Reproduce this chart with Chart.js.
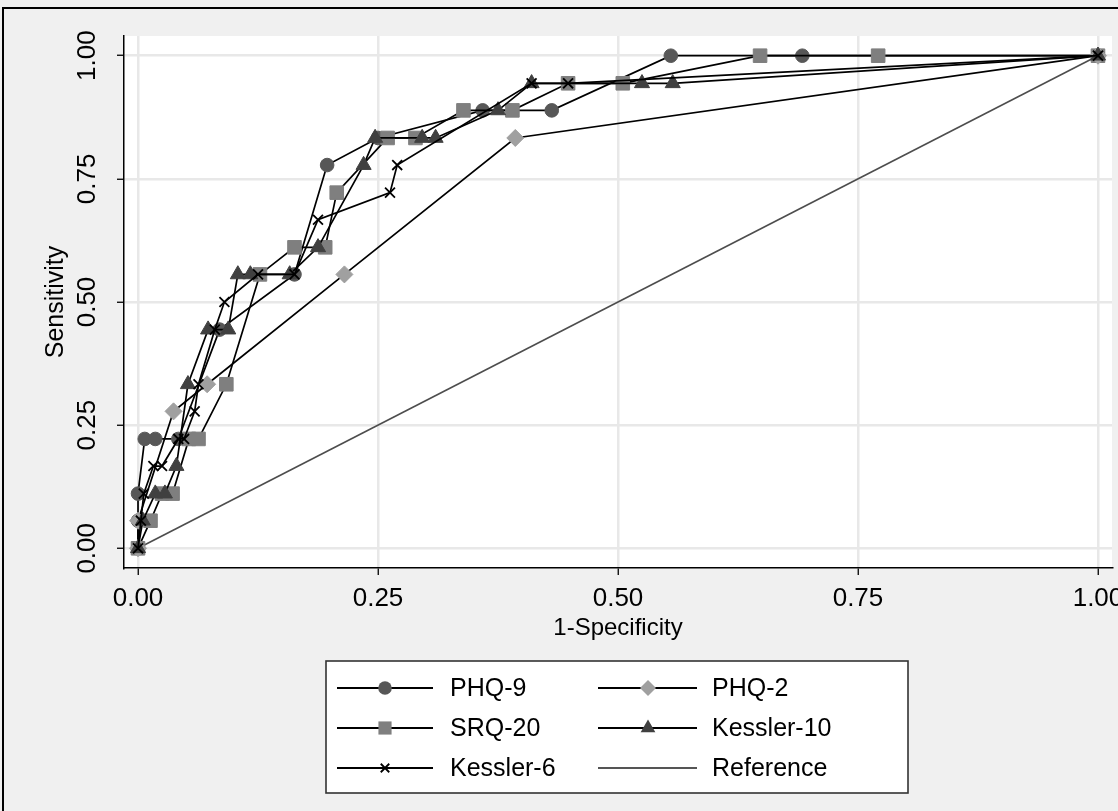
<!DOCTYPE html>
<html><head><meta charset="utf-8">
<script src="https://cdn.jsdelivr.net/npm/chart.js@4.4.1/dist/chart.umd.min.js"></script>
<style>html,body{margin:0;padding:0;overflow:hidden;background:#f0f0f0;width:1118px;height:811px}canvas{display:block}</style>
</head><body><canvas id="c" width="1160" height="811" style="width:1160px;height:811px"></canvas>
<script>
// ---- data ----
const xTickValues = [0, 0.25, 0.5, 0.75, 1];
const xTickLabels = ['0.00', '0.25', '0.50', '0.75', '1.00'];
const yTickValues = [0, 0.25, 0.5, 0.75, 1];
const yTickLabels = ['0.00', '0.25', '0.50', '0.75', '1.00'];

const phq9X = [0, 0, 0, 0.007, 0.018, 0.042, 0.085, 0.163, 0.197, 0.25, 0.359, 0.431, 0.555, 0.692, 1];
const phq9Y = [0, 0.056, 0.111, 0.222, 0.222, 0.222, 0.444, 0.556, 0.778, 0.833, 0.889, 0.889, 1, 1, 1];

const phq2X = [0, 0, 0.037, 0.072, 0.215, 0.393, 1];
const phq2Y = [0, 0.056, 0.278, 0.333, 0.556, 0.833, 1];

const srqX = [0, 0.013, 0.025, 0.036, 0.053, 0.063, 0.092, 0.127, 0.163, 0.195, 0.207, 0.26, 0.289, 0.339, 0.39, 0.448, 0.505, 0.648, 0.771, 1];
const srqY = [0, 0.056, 0.111, 0.111, 0.222, 0.222, 0.333, 0.556, 0.611, 0.611, 0.722, 0.833, 0.833, 0.889, 0.889, 0.944, 0.944, 1, 1, 1];

const k10X = [0, 0.005, 0.018, 0.028, 0.04, 0.052, 0.073, 0.094, 0.104, 0.117, 0.158, 0.1875, 0.235, 0.247, 0.296, 0.31, 0.375, 0.41, 0.525, 0.557, 1];
const k10Y = [0, 0.056, 0.111, 0.111, 0.167, 0.333, 0.444, 0.444, 0.556, 0.556, 0.556, 0.611, 0.778, 0.833, 0.833, 0.833, 0.889, 0.944, 0.944, 0.944, 1];

const k6X = [0, 0.003, 0.006, 0.016, 0.025, 0.042, 0.048, 0.059, 0.063, 0.08, 0.09, 0.125, 0.163, 0.1875, 0.2625, 0.27, 0.41, 0.448, 1];
const k6Y = [0, 0.056, 0.111, 0.167, 0.167, 0.222, 0.222, 0.278, 0.333, 0.444, 0.5, 0.556, 0.556, 0.667, 0.722, 0.778, 0.944, 0.944, 1];

const refX = [0, 1];
const refY = [0, 1];

// ---- styling ----
const FONT = "'Liberation Sans', Arial, Helvetica, sans-serif";
const pts = (xs, ys) => xs.map((x, i) => ({x: x, y: ys[i]}));
function series(label, xs, ys, style, radius, color, extra) {
  return Object.assign({
    label: label, data: pts(xs, ys), showLine: true, borderColor: '#000', borderWidth: 1.7,
    tension: 0, fill: false, pointStyle: style, pointRadius: radius, pointHoverRadius: radius,
    pointBackgroundColor: color, pointBorderColor: color, pointBorderWidth: 1
  }, extra || {});
}

const legendItems = [
  {label: 'PHQ-9', style: 'circle', r: 6.8, color: '#575757', col: 0, row: 0},
  {label: 'PHQ-2', style: 'rectRot', r: 8, color: '#a0a0a0', col: 1, row: 0},
  {label: 'SRQ-20', style: 'rect', r: 9.3, color: '#7f7f7f', col: 0, row: 1},
  {label: 'Kessler-10', style: 'triangle', r: 8.5, color: '#404040', col: 1, row: 1},
  {label: 'Kessler-6', style: 'crossRot', r: 6, color: '#000', col: 0, row: 2},
  {label: 'Reference', style: null, r: 0, color: '#555', col: 1, row: 2}
];

function marker(ctx, style, x, y, r, color) {
  ctx.save();
  ctx.fillStyle = color; ctx.strokeStyle = color;
  ctx.beginPath();
  if (style === 'circle') { ctx.arc(x, y, r, 0, Math.PI * 2); ctx.fill(); }
  else if (style === 'rect') { const s = r * Math.SQRT1_2; ctx.fillRect(x - s, y - s, 2 * s, 2 * s); }
  else if (style === 'rectRot') { ctx.moveTo(x - r, y); ctx.lineTo(x, y - r); ctx.lineTo(x + r, y); ctx.lineTo(x, y + r); ctx.closePath(); ctx.fill(); }
  else if (style === 'triangle') {
    ctx.moveTo(x, y - r);
    ctx.lineTo(x + r * Math.sin(2 * Math.PI / 3), y - r * Math.cos(2 * Math.PI / 3));
    ctx.lineTo(x + r * Math.sin(4 * Math.PI / 3), y - r * Math.cos(4 * Math.PI / 3));
    ctx.closePath(); ctx.fill();
  } else if (style === 'crossRot') {
    const s = r * Math.SQRT1_2; ctx.lineWidth = 1.8;
    ctx.moveTo(x - s, y - s); ctx.lineTo(x + s, y + s); ctx.moveTo(x + s, y - s); ctx.lineTo(x - s, y + s); ctx.stroke();
  }
  ctx.restore();
}

const bgPlugin = {
  id: 'bg',
  beforeDraw(chart) {
    const {ctx, chartArea: a} = chart;
    ctx.save();
    ctx.fillStyle = '#f0f0f0'; ctx.fillRect(0, 0, chart.width, chart.height);
    ctx.fillStyle = '#ffffff'; ctx.fillRect(a.left, a.top, a.right - a.left, a.bottom - a.top);
    ctx.strokeStyle = '#000'; ctx.lineWidth = 2;
    ctx.beginPath(); ctx.moveTo(3, chart.height); ctx.lineTo(3, 8); ctx.lineTo(chart.width, 8); ctx.stroke();
    ctx.restore();
  }
};

const legendPlugin = {
  id: 'stataLegend',
  afterDraw(chart) {
    const ctx = chart.ctx;
    const box = {x: 326, y: 661, w: 582, h: 132};
    const rows = [688, 728, 768];
    const cols = [{l0: 337, l1: 433, m: 385, t: 450}, {l0: 598, l1: 697, m: 648, t: 712}];
    ctx.save();
    ctx.fillStyle = '#fff'; ctx.fillRect(box.x, box.y, box.w, box.h);
    ctx.strokeStyle = '#333'; ctx.lineWidth = 1.6; ctx.strokeRect(box.x, box.y, box.w, box.h);
    legendItems.forEach(it => {
      const c = cols[it.col], y = rows[it.row];
      ctx.beginPath();
      ctx.strokeStyle = it.style ? '#000' : it.color;
      ctx.lineWidth = 2;
      ctx.moveTo(c.l0, y); ctx.lineTo(c.l1, y); ctx.stroke();
      if (it.style) marker(ctx, it.style, c.m, y, it.r, it.color);
      ctx.fillStyle = '#000'; ctx.font = '25px ' + FONT; ctx.textBaseline = 'middle'; ctx.textAlign = 'left';
      ctx.fillText(it.label, c.t, y + 1);
    });
    ctx.restore();
  }
};

const gridOpts = {color: '#e8e8e8', lineWidth: 2.5, drawTicks: true, tickLength: 7, tickColor: '#000', tickWidth: 1.3};

new Chart(document.getElementById('c'), {
  type: 'scatter',
  data: {
    datasets: [
      series('Kessler-6', k6X, k6Y, 'crossRot', 7, '#000', {pointBorderWidth: 1.8}),
      series('Kessler-10', k10X, k10Y, 'triangle', 8.7, '#404040'),
      series('PHQ-2', phq2X, phq2Y, 'rectRot', 8.5, '#a0a0a0'),
      series('SRQ-20', srqX, srqY, 'rect', 9.6, '#7f7f7f'),
      series('PHQ-9', phq9X, phq9Y, 'circle', 6.8, '#575757'),
      {label: 'Reference', data: pts(refX, refY), showLine: true, borderColor: '#4d4d4d', borderWidth: 1.6, pointRadius: 0, pointHoverRadius: 0, fill: false}
    ]
  },
  options: {
    responsive: false, animation: false, events: [],
    layout: {padding: {left: 41, top: 36, right: 48, bottom: 168}},
    plugins: {legend: {display: false}, tooltip: {enabled: false}},
    scales: {
      x: {
        type: 'linear', min: -0.0146, max: 1.0146,
        afterBuildTicks: s => { s.ticks = xTickValues.map(v => ({value: v})); },
        afterFit: s => { s.height = 75; },
        grid: gridOpts,
        border: {display: true, color: '#000', width: 1.5},
        ticks: {callback: (v, i) => xTickLabels[i], font: {family: FONT, size: 26}, color: '#000', padding: 8, maxRotation: 0, minRotation: 0, autoSkip: false},
        title: {display: true, text: '1-Specificity', font: {family: FONT, size: 24}, color: '#000', padding: 0}
      },
      y: {
        type: 'linear', min: -0.04, max: 1.04,
        afterBuildTicks: s => { s.ticks = yTickValues.map(v => ({value: v})); },
        afterFit: s => { s.width = 83; },
        grid: gridOpts,
        border: {display: true, color: '#000', width: 1.5},
        ticks: {callback: (v, i) => yTickLabels[i], font: {family: FONT, size: 26}, color: '#000', padding: 4, minRotation: 90, maxRotation: 90, crossAlign: 'center', autoSkip: false},
        title: {display: true, text: 'Sensitivity', font: {family: FONT, size: 25}, color: '#000', padding: 0}
      }
    }
  },
  plugins: [bgPlugin, legendPlugin]
});
</script></body></html>
